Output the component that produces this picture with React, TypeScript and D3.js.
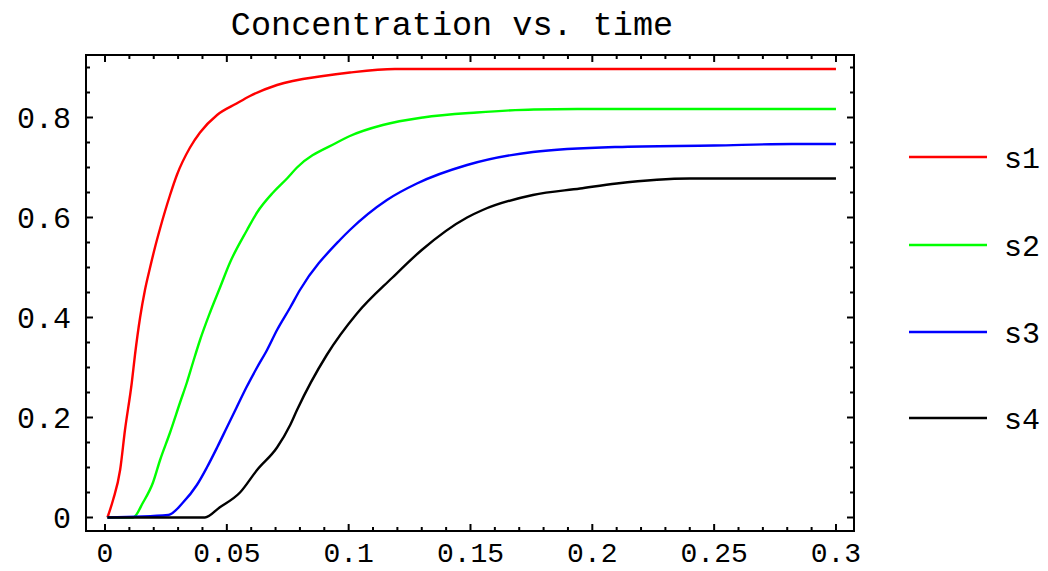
import React from "react";
import * as d3 from "d3";

const title = "Concentration vs. time";
const seriesNames = ["s1", "s2", "s3", "s4"];
const seriesColors = ["#ff0000", "#00ff00", "#0000ff", "#000000"];

const s1T = [0.001, 0.0033, 0.0062, 0.0082, 0.011, 0.0123, 0.0144, 0.0164, 0.0185, 0.0205, 0.0226, 0.0246, 0.0267, 0.0295, 0.0349, 0.039, 0.046, 0.054, 0.0595, 0.0706, 0.0895, 0.1005, 0.119, 0.15, 0.2, 0.25, 0.3];
const s1V = [0, 0.035, 0.095, 0.175, 0.27, 0.325, 0.4, 0.455, 0.5, 0.54, 0.578, 0.612, 0.645, 0.685, 0.74, 0.77, 0.805, 0.828, 0.843, 0.865, 0.883, 0.89, 0.897, 0.897, 0.897, 0.897, 0.897];

const s2T = [0.001, 0.0115, 0.0156, 0.0197, 0.0226, 0.0267, 0.0308, 0.0336, 0.0361, 0.039, 0.0431, 0.0472, 0.0513, 0.0583, 0.0624, 0.069, 0.0747, 0.0788, 0.0952, 0.1005, 0.114, 0.1305, 0.1526, 0.176, 0.2, 0.25, 0.3];
const s2V = [0, 0, 0.03, 0.07, 0.115, 0.17, 0.23, 0.27, 0.31, 0.355, 0.41, 0.46, 0.51, 0.575, 0.61, 0.65, 0.678, 0.7, 0.75, 0.763, 0.785, 0.8, 0.81, 0.816, 0.817, 0.817, 0.817];

const s3T = [0.001, 0.026, 0.032, 0.0377, 0.0418, 0.046, 0.05, 0.054, 0.058, 0.0624, 0.0665, 0.0706, 0.076, 0.08, 0.0964, 0.1005, 0.1157, 0.128, 0.1486, 0.1756, 0.21, 0.25, 0.282, 0.3];
const s3V = [0, 0.005, 0.03, 0.065, 0.1, 0.14, 0.18, 0.22, 0.26, 0.3, 0.335, 0.375, 0.42, 0.455, 0.555, 0.575, 0.635, 0.668, 0.705, 0.731, 0.741, 0.744, 0.747, 0.747];

const s4T = [0.001, 0.041, 0.047, 0.0554, 0.0624, 0.0706, 0.076, 0.0788, 0.091, 0.1034, 0.118, 0.13, 0.1486, 0.155, 0.1756, 0.195, 0.21, 0.24, 0.3];
const s4V = [0, 0, 0.02, 0.05, 0.095, 0.14, 0.185, 0.215, 0.325, 0.408, 0.48, 0.535, 0.6, 0.615, 0.645, 0.658, 0.668, 0.678, 0.678];

const xMajor = [0, 0.05, 0.1, 0.15, 0.2, 0.25, 0.3];
const xLabels = ["0", "0.05", "0.1", "0.15", "0.2", "0.25", "0.3"];
const yMajor = [0, 0.2, 0.4, 0.6, 0.8];
const yLabels = ["0", "0.2", "0.4", "0.6", "0.8"];
const xMinor = d3.range(0, 31).map((i) => i / 100);
const yMinor = d3.range(0, 19).map((i) => i / 20);

const FONT = "'Liberation Mono', 'Courier New', monospace";

export default function App() {
  const left = 86, right = 854, top = 55, bottom = 531;
  const x = d3.scaleLinear().domain([-0.0078, 0.3074]).range([left, right]);
  const y = d3.scaleLinear().domain([-0.027, 0.925]).range([bottom, top]);
  const series = [
    { t: s1T, v: s1V },
    { t: s2T, v: s2V },
    { t: s3T, v: s3V },
    { t: s4T, v: s4V },
  ];
  const line = d3
    .line<[number, number]>()
    .x((d) => x(d[0]))
    .y((d) => y(d[1]))
    .curve(d3.curveMonotoneX);

  const majLen = 7, minLen = 4;
  const legendY = [157, 245, 332, 418];

  return (
    <svg
      width={1048}
      height={571}
      style={{ position: "absolute", left: 0, top: 0, background: "#fff" }}
    >
      <text x={452} y={35} textAnchor="middle" fontFamily={FONT} fontSize={33.5} fill="#000">
        {title}
      </text>
      <defs>
        <clipPath id="clip">
          <rect x={left} y={top} width={right - left} height={bottom - top} />
        </clipPath>
      </defs>
      <g clipPath="url(#clip)">
        {series.map((s, i) => (
          <path
            key={i}
            d={line(s.t.map((t, j) => [t, s.v[j]] as [number, number])) || ""}
            fill="none"
            stroke={seriesColors[i]}
            strokeWidth={2.4}
            strokeLinejoin="round"
          />
        ))}
      </g>
      <g stroke="#000" strokeWidth={2}>
        {xMinor.map((t, i) => {
          const isMaj = xMajor.some((m) => Math.abs(m - t) < 1e-9);
          const L = isMaj ? majLen : minLen;
          return (
            <g key={"xm" + i}>
              <line x1={x(t)} x2={x(t)} y1={bottom} y2={bottom - L} />
              <line x1={x(t)} x2={x(t)} y1={top} y2={top + L} />
            </g>
          );
        })}
        {yMinor.map((v, i) => {
          const isMaj = yMajor.some((m) => Math.abs(m - v) < 1e-9);
          const L = isMaj ? majLen : minLen;
          return (
            <g key={"ym" + i}>
              <line x1={left} x2={left + L} y1={y(v)} y2={y(v)} />
              <line x1={right} x2={right - L} y1={y(v)} y2={y(v)} />
            </g>
          );
        })}
      </g>
      <rect x={left} y={top} width={right - left} height={bottom - top} fill="none" stroke="#000" strokeWidth={2} />
      {xMajor.map((t, i) => (
        <text key={"xl" + i} x={x(t)} y={562} textAnchor="middle" fontFamily={FONT} fontSize={28} fill="#000">
          {xLabels[i]}
        </text>
      ))}
      {yMajor.map((v, i) => (
        <text key={"yl" + i} x={71} y={y(v)} dy="0.35em" textAnchor="end" fontFamily={FONT} fontSize={30} fill="#000">
          {yLabels[i]}
        </text>
      ))}
      {seriesNames.map((n, i) => (
        <g key={"lg" + i}>
          <line x1={909} x2={987} y1={legendY[i]} y2={legendY[i]} stroke={seriesColors[i]} strokeWidth={2.4} />
          <text x={1004} y={legendY[i]} dy="0.35em" fontFamily={FONT} fontSize={30} fill="#000">
            {n}
          </text>
        </g>
      ))}
    </svg>
  );
}
